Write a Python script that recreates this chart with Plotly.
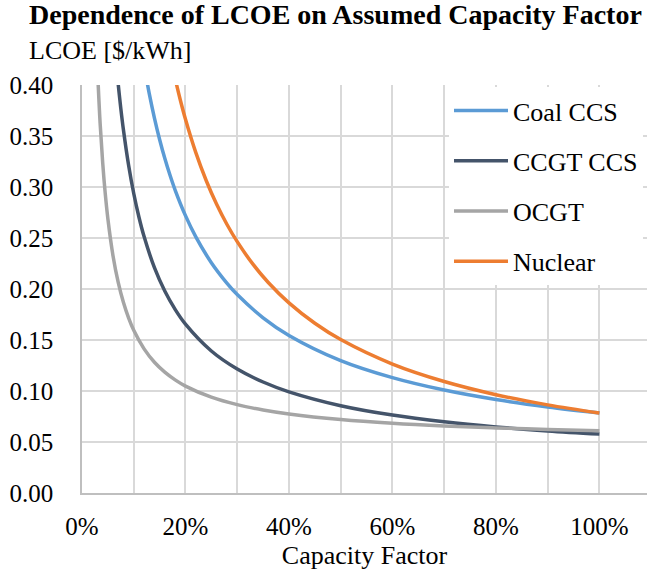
import plotly.graph_objects as go

# Capacity factor (fraction) and LCOE ($/kWh) for each technology
cf_coal_ccs = [0.125, 0.13, 0.14, 0.15, 0.16, 0.17, 0.18, 0.20, 0.22, 0.25, 0.28, 0.30, 0.35, 0.40, 0.50, 0.60, 0.70, 0.80, 0.90, 1.00]
lcoe_coal_ccs = [0.405, 0.3916, 0.3676, 0.3466, 0.3281, 0.3117, 0.2970, 0.2719, 0.2511, 0.2258, 0.2058, 0.1945, 0.1718, 0.1545, 0.1298, 0.1131, 0.1009, 0.0916, 0.0843, 0.0784]

cf_ccgt_ccs = [0.07, 0.075, 0.08, 0.09, 0.10, 0.11, 0.12, 0.14, 0.16, 0.18, 0.20, 0.25, 0.30, 0.35, 0.40, 0.50, 0.60, 0.70, 0.80, 0.90, 1.00]
lcoe_ccgt_ccs = [0.4007, 0.3771, 0.3563, 0.3215, 0.2936, 0.2706, 0.2514, 0.2209, 0.1980, 0.1800, 0.1655, 0.1392, 0.1215, 0.1088, 0.0992, 0.0856, 0.0764, 0.0698, 0.0648, 0.0609, 0.0578]

cf_ocgt = [0.030, 0.035, 0.040, 0.045, 0.050, 0.060, 0.070, 0.080, 0.090, 0.10, 0.12, 0.14, 0.16, 0.18, 0.20, 0.25, 0.30, 0.35, 0.40, 0.50, 0.60, 0.70, 0.80, 0.90, 1.00]
lcoe_ocgt = [0.4148, 0.3627, 0.3236, 0.2932, 0.2689, 0.2324, 0.2064, 0.1869, 0.1717, 0.1595, 0.1413, 0.1282, 0.1185, 0.1109, 0.1048, 0.0939, 0.0866, 0.0814, 0.0775, 0.0720, 0.0683, 0.0657, 0.0638, 0.0623, 0.0611]

cf_nuclear = [0.175, 0.18, 0.19, 0.20, 0.22, 0.24, 0.26, 0.28, 0.30, 0.33, 0.36, 0.40, 0.45, 0.50, 0.60, 0.70, 0.80, 0.90, 1.00]
lcoe_nuclear = [0.4178, 0.4064, 0.3853, 0.3664, 0.3337, 0.3064, 0.2833, 0.2635, 0.2464, 0.2246, 0.2064, 0.1864, 0.1664, 0.1504, 0.1264, 0.1093, 0.0964, 0.0864, 0.0784]

series = [
    ("Coal CCS", cf_coal_ccs, lcoe_coal_ccs, "#5B9BD5"),
    ("CCGT CCS", cf_ccgt_ccs, lcoe_ccgt_ccs, "#44546A"),
    ("OCGT", cf_ocgt, lcoe_ocgt, "#A5A5A5"),
    ("Nuclear", cf_nuclear, lcoe_nuclear, "#ED7D31"),
]

x_ticks = [0, 0.2, 0.4, 0.6, 0.8, 1.0]
x_ticklabels = ["0%", "20%", "40%", "60%", "80%", "100%"]
y_ticks = [0, 0.05, 0.10, 0.15, 0.20, 0.25, 0.30, 0.35, 0.40]

FONT = "Liberation Serif"
GRID = "#D9D9D9"

fig = go.Figure()
for name, xs, ys, color in series:
    fig.add_trace(go.Scatter(
        x=xs, y=ys, name=name, mode="lines",
        line=dict(color=color, width=3.5, shape="spline", smoothing=1.0),
        legendgroup=name,
    ))

fig.update_layout(
    width=647, height=573,
    margin=dict(l=82, r=0, t=85, b=80),
    paper_bgcolor="white", plot_bgcolor="white",
    font=dict(family=FONT, size=26, color="black"),
    showlegend=True,
    legend=dict(
        x=(449 - 82) / 565, y=0.995, xanchor="left", yanchor="top",
        bgcolor="white", borderwidth=0,
        font=dict(family=FONT, size=26, color="black"),
        traceorder="grouped", tracegroupgap=13.5,
        itemwidth=54,
    ),
    xaxis=dict(
        range=[0, 1.092], tickvals=x_ticks, ticktext=x_ticklabels,
        showgrid=True, gridcolor=GRID, gridwidth=1.5,
        minor=dict(dtick=0.1, tick0=0, showgrid=True, gridcolor=GRID, gridwidth=1.5),
        showline=True, linecolor="#BFBFBF", linewidth=1.5,
        zeroline=False, ticks="", ticklabelstandoff=10,
        title=dict(text="Capacity Factor", standoff=7, font=dict(family=FONT, size=26)),
        tickfont=dict(family=FONT, size=25),
    ),
    yaxis=dict(
        range=[0, 0.4], tickvals=y_ticks, tickformat=".2f",
        showgrid=True, gridcolor=GRID, gridwidth=1.5,
        showline=True, linecolor="#BFBFBF", linewidth=1.5,
        zeroline=False, ticks="", ticklabelstandoff=22,
        tickfont=dict(family=FONT, size=25),
    ),
    annotations=[
        dict(text="<b>Dependence of LCOE on Assumed Capacity Factor</b>",
             xref="paper", yref="paper", x=(27 - 82) / 565, y=(493 - 15) / 408,
             xanchor="left", yanchor="middle", showarrow=False,
             font=dict(family=FONT, size=28, color="black")),
        dict(text="LCOE [$/kWh]",
             xref="paper", yref="paper", x=(27 - 82) / 565, y=(493 - 50) / 408,
             xanchor="left", yanchor="middle", showarrow=False,
             font=dict(family=FONT, size=26, color="black")),
    ],
)

fig.write_html("out.html")
